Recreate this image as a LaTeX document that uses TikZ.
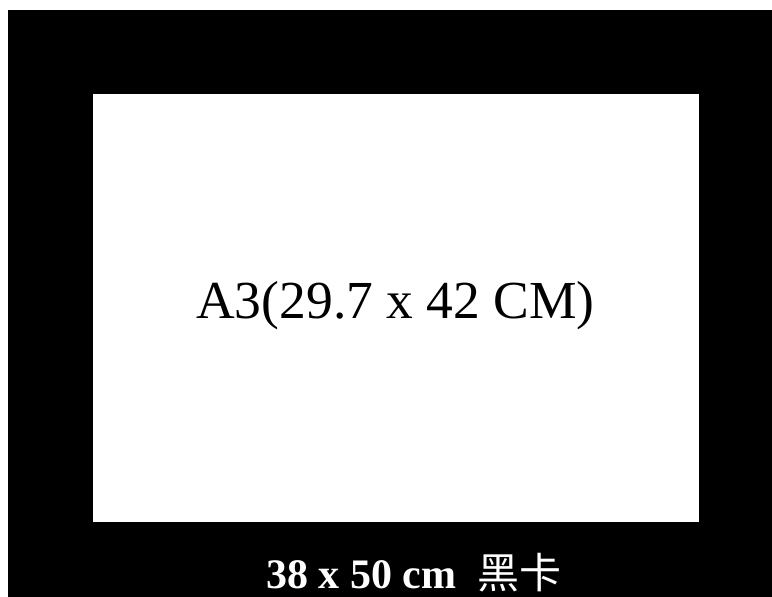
\documentclass[tikz,border=0pt]{standalone}
\usepackage{fontspec}
\setmainfont{Liberation Serif}
\newfontfamily\cjk{Noto Sans CJK SC}
\begin{document}
\begin{tikzpicture}[x=1pt,y=-1pt,
  board/.style={fill=black,draw=none},
  sheet/.style={fill=white,draw=none},
  maintext/.style={font=\fontsize{53.5}{60}\selectfont,text=black,inner sep=0pt,anchor=base},
  captext/.style={font=\fontsize{42}{48}\selectfont\bfseries,text=white,inner sep=0pt,anchor=base}]
\useasboundingbox (0,0) rectangle (772,597);
\fill[white] (0,0) rectangle (772,597);
\path[board] (8,10) rectangle (772,597);
\path[sheet] (93,94) rectangle (699,522);
\node[maintext] (size) at (395.5,318) {A3(29.7 x 42 CM)};
\node[captext] (cap) at (414,588) {38 x 50 cm\ \ {\cjk\mdseries 黑卡}};
\end{tikzpicture}
\end{document}
